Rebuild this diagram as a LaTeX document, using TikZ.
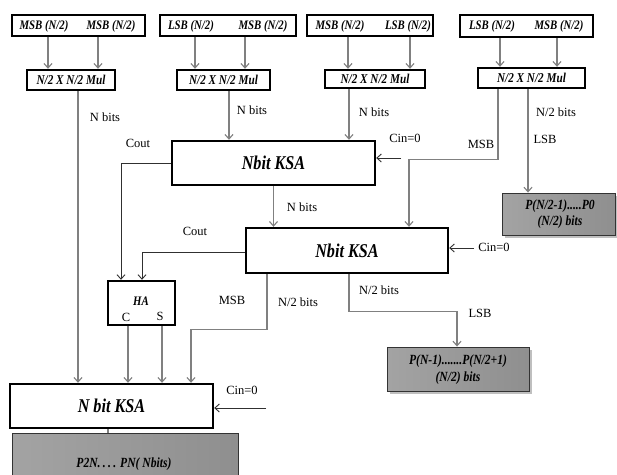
\documentclass[tikz,border=0pt]{standalone}
\usepackage{fontspec}
\setmainfont{Liberation Serif}
\newfontfamily\condfont[FakeStretch=0.83]{Liberation Serif}
\usetikzlibrary{arrows.meta,calc}
\definecolor{conncol}{HTML}{808080}
\definecolor{darkcol}{HTML}{303030}
\begin{document}
\begin{tikzpicture}[x=1pt,y=-1pt,
  thickbox/.style={draw=black,line width=2.4pt,fill=white,inner sep=0pt},
  graybox/.style={draw=black!80,line width=0.9pt,inner sep=0pt,shading=axis,left color=gray!72,middle color=gray!28,right color=gray!88,shading angle=90},
  shadowbox/.style={fill=black!25,draw=none},
  bi/.style={font=\condfont\bfseries\itshape\fontsize{13}{14}\selectfont,inner sep=0pt},
  bigray/.style={font=\condfont\bfseries\itshape\fontsize{14}{15}\selectfont,inner sep=0pt},
  bimul/.style={font=\condfont\bfseries\itshape\fontsize{13.5}{14}\selectfont,inner sep=0pt},
  bibig/.style={font=\condfont\bfseries\itshape\fontsize{19.5}{21}\selectfont,inner sep=0pt},
  lbl/.style={font=\fontsize{12.5}{13}\selectfont,inner sep=0pt},
  arr/.style={draw=conncol,line width=1.1pt,-{Straight Barb[length=4.5pt,width=8pt]}},
  plain/.style={draw=conncol,line width=1.1pt},
  darr/.style={draw=darkcol,line width=0.9pt,-{Straight Barb[length=4.5pt,width=8pt]}}
]
\clip (0,0) rectangle (617,474);
\fill[white] (0,0) rectangle (617,474);

% input boxes
\node[thickbox,minimum width=133pt,minimum height=21pt] (in1) at (78.5,25.5) {};
\node[thickbox,minimum width=136pt,minimum height=21pt] (in2) at (228,25.5) {};
\node[thickbox,minimum width=126pt,minimum height=21pt] (in3) at (370,25.5) {};
\node[thickbox,minimum width=133pt,minimum height=22pt] (in4) at (526.5,26) {};
\node[bi] (t1a) at (44,26) {MSB (N/2)};
\node[bi] (t1b) at (111,26) {MSB (N/2)};
\node[bi] (t2a) at (191,26) {LSB (N/2)};
\node[bi] (t2b) at (263,26) {MSB (N/2)};
\node[bi] (t3a) at (340,26) {MSB (N/2)};
\node[bi] (t3b) at (408,26) {LSB (N/2)};
\node[bi] (t4a) at (492,26) {LSB (N/2)};
\node[bi] (t4b) at (559,26) {MSB (N/2)};

% multipliers
\node[thickbox,bimul,minimum width=88pt,minimum height=20pt] (m1) at (71,80) {N/2 X N/2 Mul};
\node[thickbox,bimul,minimum width=93pt,minimum height=20pt] (m2) at (223.5,80) {N/2 X N/2 Mul};
\node[thickbox,bimul,minimum width=100pt,minimum height=18pt] (m3) at (375,79) {N/2 X N/2 Mul};
\node[thickbox,bimul,minimum width=107pt,minimum height=20pt] (m4) at (531.5,78) {N/2 X N/2 Mul};

% adders
\node[thickbox,bibig,minimum width=203pt,minimum height=44pt] (ksa1) at (273.5,163) {Nbit KSA};
\node[thickbox,bibig,minimum width=202pt,minimum height=45pt] (ksa2) at (347,250.5) {Nbit KSA};
\node[thickbox,bibig,minimum width=203pt,minimum height=44pt] (ksa3) at (111.5,406) {N bit KSA};
\node[thickbox,minimum width=67pt,minimum height=44pt] (ha) at (141.5,303) {};
\node[bi] (hat) at (141,301) {HA};
\node[lbl] (hac) at (126,317) {C};
\node[lbl] (has) at (160,316) {S};

% result boxes
\fill[shadowbox] (504.5,196) rectangle (617,237.5);
\node[graybox,minimum width=113pt,minimum height=42pt] (g1) at (559,214) {};
\node[bigray] (g1a) at (560,206) {P(N/2-1).....P0};
\node[bigray] (g1b) at (560,222) {(N/2) bits};
\fill[shadowbox] (389.5,349.5) rectangle (531.5,393.5);
\node[graybox,minimum width=142pt,minimum height=44pt] (g2) at (458,369) {};
\node[bigray] (g2a) at (458,361) {P(N-1).......P(N/2+1)};
\node[bigray] (g2b) at (458,378) {(N/2) bits};
\node[graybox,minimum width=226pt,minimum height=60pt] (g3) at (125,463) {};
\node[bigray] (g3a) at (124,464) {P2N.\,.\,.\,. PN( Nbits)};

% input arrows
\draw[arr] ([xshift=-30.5pt]in1.south) coordinate (a) -- (a |- m1.north);
\draw[arr] ([xshift=19.5pt]in1.south) coordinate (a) -- (a |- m1.north);
\draw[arr] ([xshift=-33pt]in2.south) coordinate (a) -- (a |- m2.north);
\draw[arr] ([xshift=17pt]in2.south) coordinate (a) -- (a |- m2.north);
\draw[arr] ([xshift=-22pt]in3.south) coordinate (a) -- (a |- m3.north);
\draw[arr] ([xshift=40pt]in3.south) coordinate (a) -- (a |- m3.north);
\draw[arr] ([xshift=-26.5pt]in4.south) coordinate (a) -- (a |- m4.north);
\draw[arr] ([xshift=30.5pt]in4.south) coordinate (a) -- (a |- m4.north);

% multiplier outputs
\draw[arr] ([xshift=7pt]m1.south) coordinate (a) -- (a |- ksa3.north);
\draw[arr] ([xshift=5.5pt]m2.south) coordinate (a) -- (a |- ksa1.north);
\draw[arr] ([xshift=-26pt]m3.south) coordinate (a) -- (a |- ksa1.north);
\draw[arr] ([xshift=-33.5pt]m4.south) -- ++(0,70) -| ([xshift=62pt]ksa2.north);
\draw[arr] ([xshift=-3.5pt]m4.south) coordinate (a) -- (a |- g1.north);
\node[lbl] (l1) at (105,117) {N bits};
\node[lbl] (l2) at (252,110) {N bits};
\node[lbl] (l3) at (374,112) {N bits};
\node[lbl] (l4) at (481,144) {MSB};
\node[lbl] (l5) at (556,112) {N/2 bits};
\node[lbl] (l6) at (545,139) {LSB};

% KSA1
\coordinate (cin1) at ([shift={(25pt,5pt)}]ksa1.east);
\draw[darr] (cin1) -- (cin1 -| ksa1.east);
\node[lbl] (lc1) at (405,138) {Cin=0};
\draw[arr] (ksa1.south) -- (ksa1.south |- ksa2.north);
\node[lbl] (l7) at (302,207) {N bits};
\draw[darr] (ksa1.west) -| ([xshift=-20.5pt]ha.north);
\node[lbl] (lco1) at (138,143) {Cout};

% KSA2
\coordinate (cin2) at ([shift={(25pt,2.5pt)}]ksa2.east);
\draw[darr] (cin2) -- (cin2 -| ksa2.east);
\node[lbl] (lc2) at (494,247) {Cin=0};
\draw[darr] ([yshift=-1.5pt]ksa2.west) -| ([xshift=0.5pt]ha.north);
\node[lbl] (lco2) at (195,231) {Cout};
\draw[arr] ([xshift=-80pt]ksa2.south) -- ++(0,55) -| ([xshift=79.5pt]ksa3.north);
\node[lbl] (l8) at (232,300) {MSB};
\node[lbl] (l9) at (298,302) {N/2 bits};
\draw[arr] ([xshift=2pt]ksa2.south) -- ++(0,37) -| ([xshift=-1pt]g2.north);
\node[lbl] (l10) at (379,290) {N/2 bits};
\node[lbl] (l11) at (480,313) {LSB};

% HA outputs
\draw[arr] ([xshift=-13.5pt]ha.south) coordinate (a) -- (a |- ksa3.north);
\draw[arr] ([xshift=20.5pt]ha.south) coordinate (a) -- (a |- ksa3.north);

% KSA3
\coordinate (cin3) at ([shift={(52pt,-2pt)}]ksa3.east);
\draw[darr] (cin3) -- (cin3 -| ksa3.east);
\node[lbl] (lc3) at (242,390) {Cin=0};
\draw[plain] ([xshift=-3.5pt]ksa3.south) coordinate (a) -- (a |- g3.north);
\end{tikzpicture}
\end{document}
